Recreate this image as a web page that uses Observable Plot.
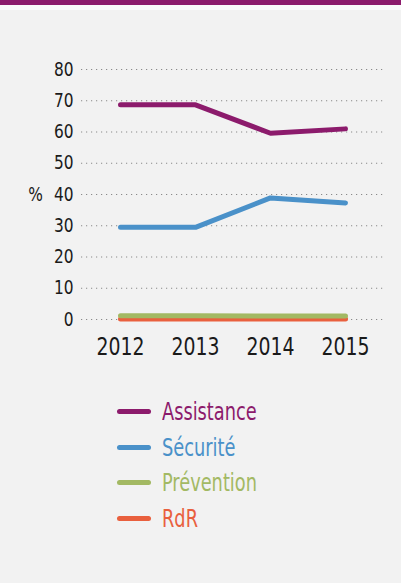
<!DOCTYPE html>
<html>
<head>
<meta charset="utf-8">
<script src="https://cdn.jsdelivr.net/npm/d3@7"></script>
<script src="https://cdn.jsdelivr.net/npm/@observablehq/plot@0.6"></script>
<style>
  html, body { margin: 0; padding: 0; background: #f2f2f2; width: 401px; height: 583px; overflow: hidden; }
  body { position: relative; font-family: "DejaVu Sans Condensed", sans-serif; }
  #bar { position: absolute; left: 0; top: 0; width: 401px; height: 5px; background: #8c1b6c; }
  #bar2 { position: absolute; left: 0; top: 5px; width: 401px; height: 5px; background: #fafafa; }
  #chart { position: absolute; left: 0; top: 0; }
  #legend { position: absolute; left: 117px; top: 394px; }
  .row { display: flex; align-items: center; height: 35.5px; }
  .sw { width: 34px; height: 5px; border-radius: 3px; margin-right: 11px; flex: none; }
  .lab { font-size: 25px; line-height: 1; transform: scaleX(0.79); transform-origin: left center; white-space: nowrap; }
</style>
</head>
<body>
<div id="bar"></div>
<div id="bar2"></div>
<div id="chart"></div>
<div id="legend"></div>
<script>
const years = ["2012", "2013", "2014", "2015"];
const seriesNames = ["Assistance", "Sécurité", "Prévention", "RdR"];
const seriesColors = ["#8c1b6c", "#4a91c9", "#a3b963", "#e9603e"];
const assistance = [68.7, 68.7, 59.6, 61.0];
const securite = [29.5, 29.5, 38.9, 37.3];
const prevention = [1.2, 1.2, 1.1, 1.1];
const rdr = [0.2, 0.2, 0.2, 0.2];
const yTicks = [0, 10, 20, 30, 40, 50, 60, 70, 80];

const valuesBySeries = [assistance, securite, prevention, rdr];
const data = [];
seriesNames.forEach((s, i) => years.forEach((y, j) => data.push({series: s, year: y, value: valuesBySeries[i][j]})));
const drawOrder = ["RdR", "Prévention", "Sécurité", "Assistance"];

const font = `"DejaVu Sans Condensed", sans-serif`;

const plot = Plot.plot({
  width: 401,
  height: 375,
  marginTop: 69,
  marginBottom: 56,
  marginLeft: 81,
  marginRight: 18,
  style: { background: "transparent", fontFamily: font, color: "#1a1a1a", overflow: "visible" },
  x: { type: "point", domain: years, padding: 0.5, label: null },
  y: { domain: [0, 80], ticks: yTicks, label: null },
  color: { domain: seriesNames, range: seriesColors },
  marks: [
    Plot.ruleY(yTicks, { stroke: "#8a8a8a", strokeWidth: 1.2, strokeDasharray: "1.2,3.8" }),
    Plot.axisY(yTicks, { tickSize: 0, tickPadding: 8, fontSize: 19, tickFormat: d => d, fill: "#1a1a1a" }),
    Plot.axisX({ tickSize: 0, tickPadding: 18, fontSize: 25, fill: "#1a1a1a" }),
    Plot.text(["%"], { frameAnchor: "left", dx: -46, fontSize: 19, fill: "#1a1a1a", textAnchor: "middle" }),
    ...drawOrder.map(s => Plot.line(data.filter(d => d.series === s), {
      x: "year", y: "value", stroke: "series", strokeWidth: 5,
      strokeLinecap: "round", strokeLinejoin: "round"
    }))
  ]
});
document.getElementById("chart").appendChild(plot);

// narrow the glyphs horizontally to mimic the condensed face of the original
function narrow(selector, s, anchor) {
  plot.querySelectorAll(selector).forEach(t => {
    const b = t.getBBox();
    const ax = anchor === "end" ? b.x + b.width : anchor === "start" ? b.x : b.x + b.width / 2;
    const tr = t.getAttribute("transform") || "";
    t.setAttribute("transform", `${tr} translate(${ax},0) scale(${s},1) translate(${-ax},0)`);
  });
}
narrow('g[aria-label="x-axis tick label"] text', 0.84, "middle");
narrow('g[aria-label="y-axis tick label"] text', 0.9, "end");
narrow('g[aria-label="text"] text', 0.9, "middle");

const legend = document.getElementById("legend");
seriesNames.forEach((s, i) => {
  const row = document.createElement("div");
  row.className = "row";
  row.innerHTML = `<div class="sw" style="background:${seriesColors[i]}"></div><div class="lab" style="color:${seriesColors[i]}">${s}</div>`;
  legend.appendChild(row);
});
</script>
</body>
</html>
